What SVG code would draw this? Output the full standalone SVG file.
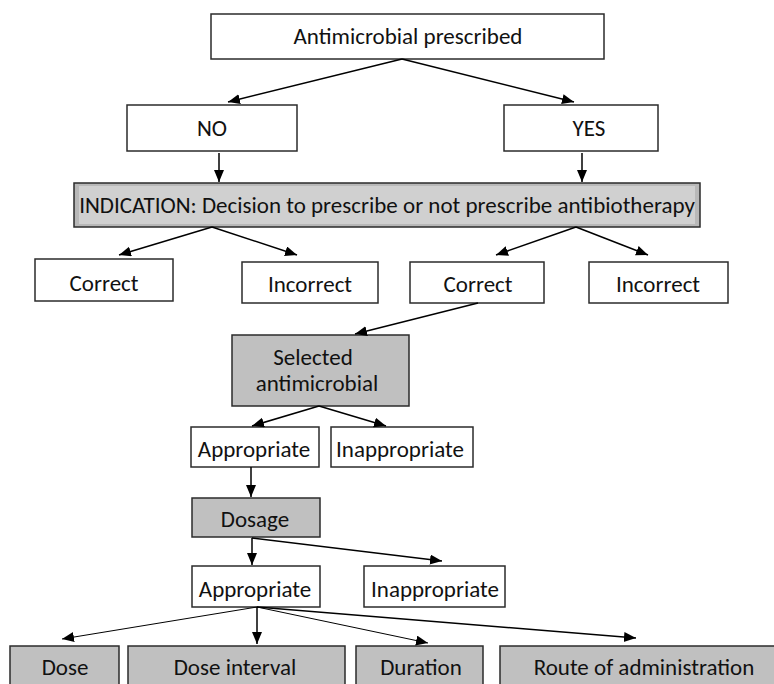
<svg xmlns="http://www.w3.org/2000/svg" width="774" height="684" viewBox="0 0 774 684">
<style>
.b{fill:#fff;stroke:#2b2b2b;stroke-width:1.5}
.g{fill:#c0c0c0;stroke:#2b2b2b;stroke-width:1.5}
text{font-family:Carlito,Lato,"Liberation Sans",sans-serif;font-size:23px;fill:#111;text-anchor:middle;dominant-baseline:central}
.c line{stroke:#000;stroke-width:1.5;marker-end:url(#ah)}
.c line.t{stroke-width:1}
</style>
<defs>
<marker id="ah" markerUnits="userSpaceOnUse" markerWidth="14" markerHeight="12" refX="12" refY="5" orient="auto">
<path d="M0,0 L12,5 L0,10 z" fill="#000"/>
</marker>
</defs>
<g id="n-top"><rect class="b" x="211" y="14" width="393" height="45"/><text x="408" y="36">Antimicrobial prescribed</text></g>
<g id="n-no"><rect class="b" x="127" y="105" width="170" height="46"/><text x="212" y="128">NO</text></g>
<g id="n-yes"><rect class="b" x="504" y="105" width="154" height="46"/><text x="589" y="128">YES</text></g>
<g id="n-ind"><rect class="g" x="74" y="183" width="626" height="44" style="fill:#b8b8b8"/><rect x="79" y="186" width="616" height="38" fill="#d0d0d0"/><text x="387" y="205">INDICATION: Decision to prescribe or not prescribe antibiotherapy</text></g>
<g id="n-c1"><rect class="b" x="35" y="259" width="138" height="42"/><text x="104" y="283">Correct</text></g>
<g id="n-i1"><rect class="b" x="242" y="262" width="136" height="41"/><text x="310" y="284">Incorrect</text></g>
<g id="n-c2"><rect class="b" x="410" y="262" width="134" height="41"/><text x="478" y="284">Correct</text></g>
<g id="n-i2"><rect class="b" x="589" y="262" width="139" height="41"/><text x="658" y="284">Incorrect</text></g>
<g id="n-sel"><rect class="g" x="232" y="335" width="177" height="71"/><text x="313" y="357">Selected</text><text x="317" y="383">antimicrobial</text></g>
<g id="n-a1"><rect class="b" x="191" y="427" width="128" height="40"/><text x="254" y="449">Appropriate</text></g>
<g id="n-in1"><rect class="b" x="331" y="427" width="142" height="40"/><text x="400" y="449">Inappropriate</text></g>
<g id="n-dos"><rect class="g" x="192" y="498" width="128" height="39"/><text x="255" y="519">Dosage</text></g>
<g id="n-a2"><rect class="b" x="192" y="566" width="128" height="41"/><text x="255" y="589">Appropriate</text></g>
<g id="n-in2"><rect class="b" x="364" y="566" width="141" height="41"/><text x="435" y="589">Inappropriate</text></g>
<g id="n-dose"><rect class="g" x="10" y="646" width="109" height="45"/><text x="65" y="667">Dose</text></g>
<g id="n-di"><rect class="g" x="128" y="646" width="217" height="45"/><text x="235" y="667">Dose interval</text></g>
<g id="n-dur"><rect class="g" x="356" y="646" width="127" height="45"/><text x="421" y="667">Duration</text></g>
<g id="n-route"><rect class="g" x="500" y="646" width="290" height="45"/><text x="644" y="667">Route of administration</text></g>
<g class="c" id="connectors">
<line x1="402" y1="59" x2="228" y2="102"/>
<line x1="402" y1="59" x2="574" y2="102"/>
<line x1="219" y1="153" x2="219" y2="182"/>
<line x1="582" y1="153" x2="582" y2="182"/>
<line x1="212" y1="227" x2="119" y2="255"/>
<line x1="212" y1="227" x2="297" y2="255"/>
<line x1="576" y1="227" x2="496" y2="255"/>
<line x1="576" y1="227" x2="648" y2="255"/>
<line x1="478" y1="303" x2="355" y2="334"/>
<line x1="319" y1="406" x2="252" y2="426"/>
<line x1="319" y1="406" x2="386" y2="426"/>
<line x1="251" y1="467" x2="251" y2="497"/>
<line x1="252" y1="538" x2="252" y2="565"/>
<line x1="252" y1="538" x2="442" y2="561"/>
<line class="t" x1="257" y1="607" x2="62" y2="639"/>
<line x1="257" y1="607" x2="257" y2="644"/>
<line class="t" x1="257" y1="607" x2="428" y2="643"/>
<line x1="257" y1="607" x2="636" y2="638"/>
</g>
</svg>
